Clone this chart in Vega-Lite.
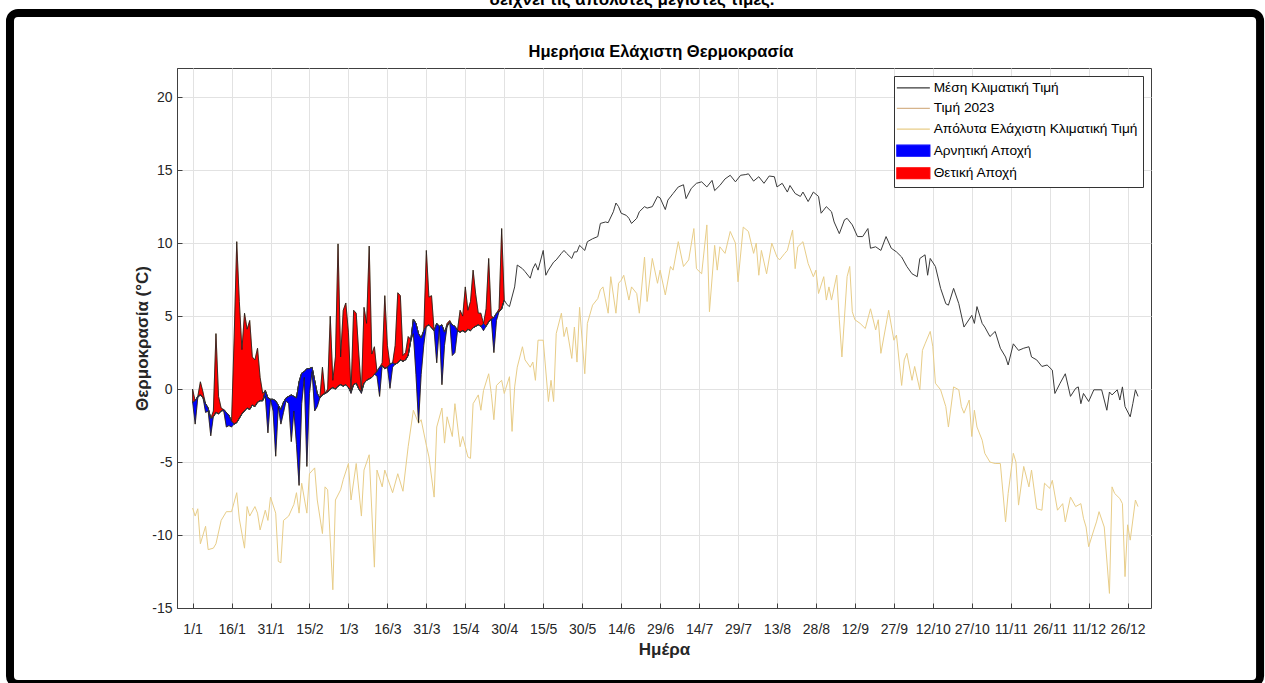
{
  "$schema": "https://vega.github.io/schema/vega-lite/v6.json",
  "autosize": {"type": "none"},
  "width": 974,
  "height": 540,
  "padding": {"left": 177, "top": 68, "right": 114, "bottom": 75},
  "background": "white",
  "datasets": {
    "jan": [
      {"day":1,"obs":0.0,"mean":-0.9},{"day":2,"obs":-2.4,"mean":-0.8},{"day":3,"obs":-0.6,"mean":-0.5},{"day":4,"obs":0.5,"mean":-0.4},{"day":5,"obs":-0.2,"mean":-0.6},
      {"day":6,"obs":-1.6,"mean":-1.0},{"day":7,"obs":-1.5,"mean":-1.3},{"day":8,"obs":-3.2,"mean":-2.0},{"day":9,"obs":-1.5,"mean":-1.9},{"day":10,"obs":3.8,"mean":-1.6},
      {"day":11,"obs":-0.5,"mean":-1.7},{"day":12,"obs":-1.3,"mean":-1.5},{"day":13,"obs":-1.5,"mean":-1.4},{"day":14,"obs":-2.6,"mean":-1.6},{"day":15,"obs":-2.5,"mean":-1.8},
      {"day":16,"obs":-2.6,"mean":-2.2},{"day":17,"obs":3.5,"mean":-2.4},{"day":18,"obs":10.1,"mean":-2.3},{"day":19,"obs":6.0,"mean":-2.0},{"day":20,"obs":2.7,"mean":-1.7},
      {"day":21,"obs":5.2,"mean":-1.5},{"day":22,"obs":4.1,"mean":-1.3},{"day":23,"obs":4.7,"mean":-1.4},{"day":24,"obs":2.2,"mean":-1.1},{"day":25,"obs":2.0,"mean":-1.2},
      {"day":26,"obs":2.8,"mean":-0.9},{"day":27,"obs":0.8,"mean":-0.8},{"day":28,"obs":-0.3,"mean":-0.8},{"day":29,"obs":-0.5,"mean":-0.1},{"day":30,"obs":-3.0,"mean":-0.6},
      {"day":31,"obs":-0.7,"mean":-0.7},{"day":32,"obs":-1.5,"mean":-0.7},{"day":33,"obs":-4.6,"mean":-0.8},{"day":34,"obs":-1.2,"mean":-1.1},{"day":35,"obs":-2.4,"mean":-1.4},
      {"day":36,"obs":-1.6,"mean":-0.9},{"day":37,"obs":-0.8,"mean":-0.6},{"day":38,"obs":-1.0,"mean":-0.5},{"day":39,"obs":-3.6,"mean":-0.4},{"day":40,"obs":-1.5,"mean":-0.5},
      {"day":41,"obs":-3.8,"mean":-0.6},{"day":42,"obs":-6.6,"mean":0.5},{"day":43,"obs":-1.0,"mean":1.1},{"day":44,"obs":0.8,"mean":1.2},{"day":45,"obs":-5.3,"mean":1.4},
      {"day":46,"obs":-0.3,"mean":1.4},{"day":47,"obs":1.2,"mean":1.5},{"day":48,"obs":-1.5,"mean":0.6},{"day":49,"obs":-1.2,"mean":-0.3},{"day":50,"obs":-0.6,"mean":-0.6},
      {"day":51,"obs":1.5,"mean":-0.4},{"day":52,"obs":-0.3,"mean":-0.3},{"day":53,"obs":0.0,"mean":-0.2},{"day":54,"obs":5.0,"mean":0.0},{"day":55,"obs":0.6,"mean":0.1},
      {"day":56,"obs":2.2,"mean":0.0},{"day":57,"obs":9.95,"mean":0.2},{"day":58,"obs":2.2,"mean":0.3},{"day":59,"obs":5.4,"mean":0.2},{"day":60,"obs":5.9,"mean":0.3},
      {"day":61,"obs":3.9,"mean":0.1},{"day":62,"obs":-0.3,"mean":-0.2},{"day":63,"obs":5.4,"mean":0.3},{"day":64,"obs":5.2,"mean":0.4},{"day":65,"obs":2.4,"mean":0.0},
      {"day":66,"obs":-0.3,"mean":-0.2},{"day":67,"obs":5.6,"mean":0.4},{"day":68,"obs":4.5,"mean":0.6},{"day":69,"obs":9.8,"mean":0.7},{"day":70,"obs":2.4,"mean":0.8},
      {"day":71,"obs":2.9,"mean":1.0},{"day":72,"obs":0.9,"mean":1.2},{"day":73,"obs":-0.5,"mean":1.5},{"day":74,"obs":1.8,"mean":1.6},{"day":75,"obs":6.4,"mean":1.4},
      {"day":76,"obs":3.0,"mean":1.5},{"day":77,"obs":0.05,"mean":1.7},{"day":78,"obs":1.5,"mean":1.8},{"day":79,"obs":3.0,"mean":1.7},{"day":80,"obs":6.6,"mean":1.8},
      {"day":81,"obs":6.4,"mean":2.0},{"day":82,"obs":2.3,"mean":1.9},{"day":83,"obs":2.5,"mean":2.0},{"day":84,"obs":3.6,"mean":2.3},{"day":85,"obs":3.4,"mean":3.3},
      {"day":86,"obs":3.8,"mean":4.8},{"day":87,"obs":1.0,"mean":4.5},{"day":88,"obs":-2.3,"mean":3.8},{"day":89,"obs":1.0,"mean":3.5},{"day":90,"obs":3.0,"mean":4.0},
      {"day":91,"obs":9.5,"mean":4.3},{"day":92,"obs":6.3,"mean":4.4},{"day":93,"obs":6.4,"mean":4.2},{"day":94,"obs":4.0,"mean":4.0},{"day":95,"obs":1.8,"mean":4.5},
      {"day":96,"obs":4.3,"mean":4.3},{"day":97,"obs":0.3,"mean":4.4},{"day":98,"obs":3.0,"mean":3.9},{"day":99,"obs":4.5,"mean":4.3},{"day":100,"obs":4.7,"mean":4.6},
      {"day":101,"obs":2.3,"mean":4.4},{"day":102,"obs":2.5,"mean":4.3},{"day":103,"obs":4.05,"mean":4.0},{"day":104,"obs":5.4,"mean":3.9},{"day":105,"obs":5.0,"mean":4.0},
      {"day":106,"obs":7.0,"mean":3.9},{"day":107,"obs":5.4,"mean":4.1},{"day":108,"obs":6.0,"mean":4.0},{"day":109,"obs":8.15,"mean":4.2},{"day":110,"obs":6.5,"mean":4.3},
      {"day":111,"obs":5.2,"mean":4.4},{"day":112,"obs":5.2,"mean":4.3},{"day":113,"obs":4.0,"mean":4.5},{"day":114,"obs":5.5,"mean":4.3},{"day":115,"obs":8.95,"mean":4.6},
      {"day":116,"obs":5.0,"mean":4.8},{"day":117,"obs":2.5,"mean":4.9},{"day":118,"obs":4.7,"mean":5.2},{"day":119,"obs":5.5,"mean":5.3},{"day":120,"obs":11.0,"mean":5.5},
      {"day":121,"obs":6.1,"mean":6.1}
    ],
    "clim": [
      {"day":121,"mean":6.1},{"day":122,"mean":5.8},{"day":123,"mean":5.65},{"day":125,"mean":7.0},{"day":126,"mean":8.5},{"day":128,"mean":8.25},{"day":129,"mean":8.05},
      {"day":131,"mean":7.6},{"day":132,"mean":8.25},{"day":133,"mean":8.6},{"day":134,"mean":8.15},{"day":136,"mean":9.5},{"day":137,"mean":7.8},{"day":138,"mean":8.15},
      {"day":140,"mean":8.7},{"day":141,"mean":8.85},{"day":143,"mean":9.3},{"day":144,"mean":9.5},{"day":145,"mean":9.3},{"day":147,"mean":8.95},{"day":148,"mean":9.4},
      {"day":149,"mean":9.4},{"day":150,"mean":9.85},{"day":152,"mean":9.5},{"day":153,"mean":10.1},{"day":155,"mean":10.3},{"day":157,"mean":10.45},{"day":158,"mean":11.35},
      {"day":160,"mean":11.45},{"day":161,"mean":11.4},{"day":163,"mean":12.15},{"day":164,"mean":12.75},{"day":165,"mean":12.5},{"day":166,"mean":12.05},{"day":168,"mean":11.9},
      {"day":169,"mean":11.7},{"day":170,"mean":11.35},{"day":172,"mean":11.7},{"day":173,"mean":12.15},{"day":175,"mean":12.5},{"day":176,"mean":12.4},{"day":178,"mean":12.5},
      {"day":180,"mean":13.2},{"day":181,"mean":13.1},{"day":183,"mean":12.3},{"day":184,"mean":12.95},{"day":186,"mean":13.4},{"day":188,"mean":13.85},{"day":190,"mean":14.0},
      {"day":191,"mean":13.05},{"day":193,"mean":13.75},{"day":195,"mean":14.1},{"day":197,"mean":14.2},{"day":199,"mean":13.85},{"day":201,"mean":14.3},{"day":202,"mean":13.6},
      {"day":204,"mean":13.95},{"day":206,"mean":14.4},{"day":208,"mean":14.65},{"day":210,"mean":14.2},{"day":212,"mean":14.65},{"day":214,"mean":14.7},{"day":215,"mean":14.75},
      {"day":217,"mean":14.25},{"day":219,"mean":14.55},{"day":221,"mean":14.1},{"day":223,"mean":14.6},{"day":225,"mean":14.55},{"day":226,"mean":13.85},{"day":228,"mean":14.1},
      {"day":230,"mean":13.5},{"day":231,"mean":13.95},{"day":233,"mean":13.4},{"day":235,"mean":13.2},{"day":236,"mean":13.5},{"day":238,"mean":12.85},{"day":240,"mean":13.5},
      {"day":242,"mean":13.2},{"day":243,"mean":12.05},{"day":245,"mean":12.5},{"day":247,"mean":12.15},{"day":248,"mean":11.45},{"day":250,"mean":10.65},{"day":252,"mean":11.6},
      {"day":253,"mean":11.7},{"day":255,"mean":11.25},{"day":257,"mean":10.45},{"day":259,"mean":10.45},{"day":261,"mean":11.0},{"day":262,"mean":9.65},{"day":264,"mean":9.75},
      {"day":266,"mean":9.5},{"day":268,"mean":10.45},{"day":270,"mean":9.65},{"day":272,"mean":9.4},{"day":274,"mean":9.05},{"day":276,"mean":8.4},{"day":278,"mean":7.9},
      {"day":280,"mean":7.7},{"day":281,"mean":8.95},{"day":283,"mean":9.2},{"day":284,"mean":7.8},{"day":285,"mean":8.95},{"day":287,"mean":8.4},{"day":289,"mean":6.9},
      {"day":291,"mean":5.85},{"day":292,"mean":5.75},{"day":294,"mean":6.9},{"day":296,"mean":5.85},{"day":298,"mean":4.25},{"day":301,"mean":5.05},{"day":302,"mean":4.5},
      {"day":303,"mean":5.65},{"day":305,"mean":4.5},{"day":306,"mean":4.25},{"day":308,"mean":3.6},{"day":310,"mean":3.95},{"day":312,"mean":2.8},{"day":314,"mean":2.2},
      {"day":315,"mean":1.65},{"day":317,"mean":3.1},{"day":319,"mean":2.65},{"day":321,"mean":2.8},{"day":323,"mean":2.9},{"day":324,"mean":2.2},{"day":326,"mean":2.0},
      {"day":328,"mean":1.55},{"day":330,"mean":1.65},{"day":332,"mean":1.3},{"day":333,"mean":-0.3},{"day":335,"mean":0.4},{"day":337,"mean":1.05},{"day":339,"mean":-0.5},
      {"day":341,"mean":0.05},{"day":342,"mean":0.15},{"day":343,"mean":-1.0},{"day":344,"mean":-0.3},{"day":346,"mean":-0.85},{"day":348,"mean":-0.05},{"day":351,"mean":-0.05},
      {"day":353,"mean":-1.45},{"day":354,"mean":-0.2},{"day":355,"mean":-0.4},{"day":357,"mean":-0.05},{"day":358,"mean":-0.75},{"day":359,"mean":0.15},{"day":360,"mean":-1.2},
      {"day":362,"mean":-1.9},{"day":363,"mean":-1.0},{"day":364,"mean":-0.05},{"day":365,"mean":-0.5}
    ],
    "absmin": [
      {"day":1,"absmin":-8.15},{"day":2,"absmin":-8.7},{"day":3,"absmin":-8.2},{"day":4,"absmin":-10.6},{"day":6,"absmin":-9.4},{"day":7,"absmin":-11.0},{"day":9,"absmin":-10.9},
      {"day":10,"absmin":-10.6},{"day":12,"absmin":-9.0},{"day":14,"absmin":-8.4},{"day":16,"absmin":-8.4},{"day":18,"absmin":-7.1},{"day":19,"absmin":-8.9},{"day":21,"absmin":-10.9},
      {"day":22,"absmin":-8.05},{"day":23,"absmin":-8.7},{"day":25,"absmin":-8.05},{"day":26,"absmin":-8.5},{"day":27,"absmin":-9.65},{"day":29,"absmin":-8.3},{"day":30,"absmin":-9.0},
      {"day":31,"absmin":-7.4},{"day":33,"absmin":-8.5},{"day":34,"absmin":-11.8},{"day":35,"absmin":-11.9},{"day":36,"absmin":-9.0},{"day":38,"absmin":-8.7},{"day":40,"absmin":-7.9},
      {"day":41,"absmin":-7.1},{"day":42,"absmin":-8.5},{"day":43,"absmin":-6.45},{"day":45,"absmin":-8.5},{"day":46,"absmin":-5.8},{"day":48,"absmin":-5.4},{"day":49,"absmin":-7.6},
      {"day":51,"absmin":-9.9},{"day":52,"absmin":-6.7},{"day":53,"absmin":-6.9},{"day":55,"absmin":-13.75},{"day":56,"absmin":-7.6},{"day":58,"absmin":-6.9},{"day":59,"absmin":-6.2},
      {"day":61,"absmin":-5.1},{"day":62,"absmin":-7.6},{"day":64,"absmin":-5.1},{"day":66,"absmin":-8.7},{"day":67,"absmin":-5.55},{"day":69,"absmin":-4.5},{"day":71,"absmin":-12.2},
      {"day":72,"absmin":-5.55},{"day":74,"absmin":-6.7},{"day":75,"absmin":-5.55},{"day":78,"absmin":-7.1},{"day":80,"absmin":-5.8},{"day":82,"absmin":-7.0},{"day":84,"absmin":-3.95},
      {"day":86,"absmin":-1.45},{"day":88,"absmin":-2.35},{"day":89,"absmin":-2.1},{"day":91,"absmin":-3.85},{"day":92,"absmin":-4.65},{"day":94,"absmin":-7.4},{"day":95,"absmin":-2.6},
      {"day":97,"absmin":-1.3},{"day":98,"absmin":-3.7},{"day":99,"absmin":-1.9},{"day":101,"absmin":-3.25},{"day":102,"absmin":-1.0},{"day":104,"absmin":-3.95},{"day":105,"absmin":-3.25},
      {"day":107,"absmin":-4.65},{"day":108,"absmin":-4.75},{"day":109,"absmin":-1.0},{"day":111,"absmin":-0.4},{"day":112,"absmin":-1.45},{"day":113,"absmin":-0.1},{"day":115,"absmin":1.05},
      {"day":116,"absmin":-0.3},{"day":117,"absmin":-2.1},{"day":118,"absmin":0.25},{"day":120,"absmin":0.6},{"day":121,"absmin":-0.3},{"day":123,"absmin":0.85},{"day":124,"absmin":-2.9},
      {"day":125,"absmin":0.15},{"day":126,"absmin":1.5},{"day":128,"absmin":2.9},{"day":129,"absmin":2.0},{"day":131,"absmin":1.5},{"day":132,"absmin":1.85},{"day":133,"absmin":0.6},
      {"day":134,"absmin":3.35},{"day":136,"absmin":3.35},{"day":138,"absmin":-0.85},{"day":139,"absmin":0.6},{"day":140,"absmin":-0.85},{"day":141,"absmin":3.8},{"day":143,"absmin":5.2},
      {"day":144,"absmin":3.6},{"day":145,"absmin":4.25},{"day":147,"absmin":2.1},{"day":148,"absmin":4.25},{"day":149,"absmin":1.85},{"day":150,"absmin":5.6},{"day":152,"absmin":1.05},
      {"day":153,"absmin":4.5},{"day":155,"absmin":5.75},{"day":157,"absmin":6.2},{"day":158,"absmin":6.8},{"day":159,"absmin":7.0},{"day":161,"absmin":5.2},{"day":162,"absmin":7.7},
      {"day":164,"absmin":5.2},{"day":165,"absmin":7.25},{"day":166,"absmin":7.45},{"day":167,"absmin":7.8},{"day":169,"absmin":6.1},{"day":170,"absmin":7.0},{"day":172,"absmin":6.55},
      {"day":173,"absmin":5.2},{"day":175,"absmin":9.05},{"day":176,"absmin":6.0},{"day":178,"absmin":8.95},{"day":180,"absmin":7.25},{"day":181,"absmin":8.15},{"day":183,"absmin":6.45},
      {"day":185,"absmin":8.4},{"day":186,"absmin":8.15},{"day":188,"absmin":10.1},{"day":190,"absmin":8.4},{"day":192,"absmin":8.85},{"day":194,"absmin":11.0},{"day":195,"absmin":8.25},
      {"day":197,"absmin":7.9},{"day":199,"absmin":11.25},{"day":200,"absmin":5.3},{"day":202,"absmin":9.85},{"day":203,"absmin":8.15},{"day":204,"absmin":9.75},{"day":206,"absmin":9.3},
      {"day":208,"absmin":10.8},{"day":210,"absmin":10.0},{"day":211,"absmin":7.35},{"day":213,"absmin":11.1},{"day":215,"absmin":10.8},{"day":217,"absmin":9.3},{"day":218,"absmin":10.0},
      {"day":219,"absmin":7.8},{"day":220,"absmin":9.5},{"day":222,"absmin":7.9},{"day":224,"absmin":10.0},{"day":226,"absmin":9.05},{"day":227,"absmin":8.85},{"day":229,"absmin":9.3},
      {"day":230,"absmin":9.5},{"day":232,"absmin":10.9},{"day":233,"absmin":8.25},{"day":234,"absmin":9.75},{"day":236,"absmin":10.1},{"day":238,"absmin":8.6},{"day":240,"absmin":7.7},
      {"day":241,"absmin":8.15},{"day":242,"absmin":6.55},{"day":244,"absmin":7.7},{"day":245,"absmin":6.1},{"day":246,"absmin":7.0},{"day":247,"absmin":6.1},{"day":249,"absmin":7.8},
      {"day":250,"absmin":4.75},{"day":251,"absmin":2.2},{"day":253,"absmin":7.7},{"day":254,"absmin":8.4},{"day":255,"absmin":5.3},{"day":256,"absmin":4.75},{"day":258,"absmin":4.5},
      {"day":260,"absmin":4.15},{"day":262,"absmin":5.5},{"day":264,"absmin":4.05},{"day":265,"absmin":4.75},{"day":266,"absmin":2.45},{"day":268,"absmin":4.4},{"day":269,"absmin":5.4},
      {"day":271,"absmin":3.35},{"day":272,"absmin":3.7},{"day":274,"absmin":0.25},{"day":275,"absmin":2.0},{"day":276,"absmin":2.45},{"day":278,"absmin":0.6},{"day":279,"absmin":1.55},
      {"day":281,"absmin":-0.05},{"day":282,"absmin":2.65},{"day":283,"absmin":3.1},{"day":285,"absmin":3.95},{"day":286,"absmin":2.9},{"day":287,"absmin":0.4},{"day":289,"absmin":-0.05},
      {"day":291,"absmin":-1.2},{"day":292,"absmin":-2.6},{"day":294,"absmin":0.15},{"day":296,"absmin":-0.05},{"day":297,"absmin":-1.2},{"day":298,"absmin":-1.65},{"day":300,"absmin":-0.75},
      {"day":301,"absmin":-3.25},{"day":302,"absmin":-1.45},{"day":303,"absmin":-2.6},{"day":305,"absmin":-3.5},{"day":306,"absmin":-4.4},{"day":308,"absmin":-5.0},{"day":310,"absmin":-5.1},
      {"day":312,"absmin":-5.1},{"day":314,"absmin":-9.1},{"day":315,"absmin":-7.15},{"day":317,"absmin":-4.4},{"day":318,"absmin":-5.0},{"day":319,"absmin":-7.95},{"day":321,"absmin":-5.3},
      {"day":323,"absmin":-6.7},{"day":324,"absmin":-5.55},{"day":326,"absmin":-8.2},{"day":328,"absmin":-8.3},{"day":329,"absmin":-6.45},{"day":331,"absmin":-6.8},{"day":332,"absmin":-6.25},
      {"day":334,"absmin":-8.3},{"day":336,"absmin":-7.85},{"day":337,"absmin":-9.1},{"day":339,"absmin":-7.4},{"day":341,"absmin":-8.05},{"day":343,"absmin":-7.85},{"day":344,"absmin":-8.85},
      {"day":345,"absmin":-9.45},{"day":346,"absmin":-10.8},{"day":348,"absmin":-9.65},{"day":349,"absmin":-9.1},{"day":350,"absmin":-8.4},{"day":352,"absmin":-9.45},{"day":354,"absmin":-14.0},
      {"day":355,"absmin":-6.7},{"day":356,"absmin":-7.15},{"day":358,"absmin":-7.5},{"day":359,"absmin":-7.85},{"day":360,"absmin":-12.85},{"day":361,"absmin":-9.3},{"day":362,"absmin":-10.35},
      {"day":364,"absmin":-7.6},{"day":365,"absmin":-8.05}
    ]
  },
  "layer": [
    {
      "data": {"values": [{}]},
      "mark": {"type": "rect", "fill": "transparent", "stroke": "black", "strokeWidth": 8, "cornerRadius": 8, "clip": false},
      "encoding": {
        "x": {"datum": -69.3, "type": "quantitative", "scale": {"domain": [-5, 370], "nice": false, "zero": false}},
        "x2": {"datum": 412},
        "y": {"datum": 25.77, "type": "quantitative", "scale": {"domain": [-15, 22], "nice": false, "zero": false}},
        "y2": {"datum": -20.2}
      }
    },
    {
      "data": {"values": [{}]},
      "mark": {"type": "text", "text": "δείχνει τις απόλυτες μέγιστες τιμές.", "font": "Liberation Sans", "fontSize": 17, "fontWeight": "bold", "baseline": "alphabetic", "align": "center", "color": "black", "clip": false},
      "encoding": {
        "x": {"datum": 170.2, "type": "quantitative", "scale": {"domain": [-5, 370], "nice": false, "zero": false}},
        "y": {"datum": 26.32, "type": "quantitative", "scale": {"domain": [-15, 22], "nice": false, "zero": false}}
      }
    },
    {
      "data": {"values": [{}]},
      "mark": {"type": "text", "text": "Ημερήσια Ελάχιστη Θερμοκρασία", "font": "Liberation Sans", "fontSize": 16.5, "fontWeight": "bold", "baseline": "alphabetic", "align": "center", "color": "black", "clip": false},
      "encoding": {
        "x": {"datum": 181.35, "type": "quantitative", "scale": {"domain": [-5, 370], "nice": false, "zero": false}},
        "y": {"datum": 22.72, "type": "quantitative", "scale": {"domain": [-15, 22], "nice": false, "zero": false}}
      }
    },
    {
      "data": {"name": "absmin"},
      "mark": {"type": "line", "strokeWidth": 1},
      "encoding": {
        "x": {"field": "day", "type": "quantitative", "scale": {"domain": [-5, 370], "nice": false, "zero": false},
              "axis": {"title": "Ημέρα", "values": [1,16,31,46,61,76,91,106,121,136,151,166,181,196,211,226,241,256,271,286,301,316,331,346,361],
                       "labelExpr": "['1/1','16/1','31/1','15/2','1/3','16/3','31/3','15/4','30/4','15/5','30/5','14/6','29/6','14/7','29/7','13/8','28/8','12/9','27/9','12/10','27/10','11/11','26/11','11/12','26/12'][round((datum.value-1)/15)]"}},
        "y": {"field": "absmin", "type": "quantitative", "scale": {"domain": [-15, 22], "nice": false, "zero": false},
              "axis": {"title": "Θερμοκρασία (°C)", "values": [-15,-10,-5,0,5,10,15,20], "labelExpr": "'' + datum.value"}},
        "color": {"datum": "Απόλυτα Ελάχιστη Κλιματική Τιμή",
          "scale": {"domain": ["Μέση Κλιματική Τιμή","Τιμή 2023","Απόλυτα Ελάχιστη Κλιματική Τιμή","Αρνητική Αποχή","Θετική Αποχή"],
                    "range": ["#3a3a3a","#d6b48c","#e8cd88","#0000ff","#ff0000"]},
          "legend": {
            "title": null, "orient": "none", "legendX": 717, "legendY": 8,
            "padding": 5, "fillColor": "white", "strokeColor": "#333333",
            "symbolSize": 100, "labelOffset": 21, "rowPadding": 5.6,
            "labelFont": "Liberation Sans", "labelFontSize": 13.7, "labelColor": "black", "labelLimit": 400,
            "encode": {"symbols": {"update": {
              "shape": {"signal": "(datum.value === 'Αρνητική Αποχή' || datum.value === 'Θετική Αποχή') ? 'M-1.8,-1.1H4.8V1.1H-1.8Z' : 'M-1.8,0H4.8'"},
              "fill": {"signal": "(datum.value === 'Αρνητική Αποχή' || datum.value === 'Θετική Αποχή') ? scale('color', datum.value) : 'transparent'"},
              "stroke": {"signal": "(datum.value === 'Αρνητική Αποχή' || datum.value === 'Θετική Αποχή') ? '#333333' : scale('color', datum.value)"},
              "strokeWidth": {"value": 1.2},
              "opacity": {"value": 1},
              "size": {"value": 100}
            }}}
          }
        }
      }
    },
    {
      "data": {"name": "jan"},
      "mark": {"type": "line", "strokeWidth": 1},
      "encoding": {
        "x": {"field": "day", "type": "quantitative", "scale": {"domain": [-5, 370], "nice": false, "zero": false}},
        "y": {"field": "obs", "type": "quantitative", "scale": {"domain": [-15, 22], "nice": false, "zero": false}},
        "color": {"datum": "Τιμή 2023"}
      }
    },
    {
      "data": {"name": "jan"},
      "transform": [
        {"fold": ["obs", "mean"], "as": ["k", "v"]},
        {"aggregate": [{"op": "max", "field": "v", "as": "hi"}, {"op": "min", "field": "v", "as": "lo"}, {"op": "max", "field": "mean", "as": "m"}], "groupby": ["day"]}
      ],
      "layer": [
        {
          "mark": {"type": "area", "stroke": "#1a1a1a", "strokeWidth": 0.8, "fillOpacity": 1},
          "encoding": {
            "x": {"field": "day", "type": "quantitative", "scale": {"domain": [-5, 370], "nice": false, "zero": false}},
            "y": {"field": "hi", "type": "quantitative", "scale": {"domain": [-15, 22], "nice": false, "zero": false}},
            "y2": {"field": "m"},
            "color": {"datum": "Θετική Αποχή"}
          }
        },
        {
          "mark": {"type": "area", "stroke": "#1a1a1a", "strokeWidth": 0.8, "fillOpacity": 1},
          "encoding": {
            "x": {"field": "day", "type": "quantitative", "scale": {"domain": [-5, 370], "nice": false, "zero": false}},
            "y": {"field": "lo", "type": "quantitative", "scale": {"domain": [-15, 22], "nice": false, "zero": false}},
            "y2": {"field": "m"},
            "color": {"datum": "Αρνητική Αποχή"}
          }
        }
      ]
    },
    {
      "data": {"name": "jan"},
      "mark": {"type": "line", "strokeWidth": 1},
      "encoding": {
        "x": {"field": "day", "type": "quantitative", "scale": {"domain": [-5, 370], "nice": false, "zero": false}},
        "y": {"field": "mean", "type": "quantitative", "scale": {"domain": [-15, 22], "nice": false, "zero": false}},
        "color": {"datum": "Μέση Κλιματική Τιμή"}
      }
    },
    {
      "data": {"name": "clim"},
      "mark": {"type": "line", "strokeWidth": 1},
      "encoding": {
        "x": {"field": "day", "type": "quantitative", "scale": {"domain": [-5, 370], "nice": false, "zero": false}},
        "y": {"field": "mean", "type": "quantitative", "scale": {"domain": [-15, 22], "nice": false, "zero": false}},
        "color": {"datum": "Μέση Κλιματική Τιμή"}
      }
    }
  ],
  "config": {
    "font": "Liberation Sans",
    "view": {"stroke": "#404040", "strokeWidth": 1},
    "axis": {"grid": true, "gridColor": "#e2e2e2", "gridWidth": 1, "domainColor": "#404040", "tickColor": "#404040", "tickSize": -5,
             "labelFont": "Liberation Sans", "labelFontSize": 14, "labelColor": "#262626",
             "titleFont": "Liberation Sans", "titleFontSize": 17, "titleFontWeight": "bold", "titleColor": "#262626"},
    "axisX": {"labelPadding": 19, "titlePadding": 5, "labelOverlap": false, "labelFlush": false},
    "axisY": {"labelPadding": 10, "titlePadding": 0}
  }
}
